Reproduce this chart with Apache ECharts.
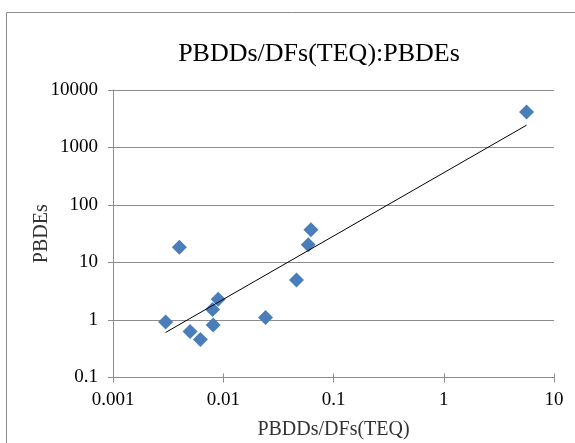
<!DOCTYPE html>
<html><head><meta charset="utf-8">
<script src="https://cdn.jsdelivr.net/npm/echarts@6/dist/echarts.min.js"></script>
<style>html,body{margin:0;padding:0;background:#fff}#c{width:575px;height:443px}</style>
</head><body><div id="c"></div>
<script>
const titleText = 'PBDDs/DFs(TEQ):PBDEs';
const xName = 'PBDDs/DFs(TEQ)';
const yName = 'PBDEs';
const xValues = [0.0030, 0.0040, 0.0050, 0.0062, 0.0081, 0.0080, 0.0090, 0.0242, 0.0462, 0.059, 0.0624, 5.64];
const yValues = [0.92, 18.4, 0.63, 0.46, 0.82, 1.53, 2.29, 1.10, 4.97, 20.4, 37.2, 4140];
const xTickLabels = ['0.001', '0.01', '0.1', '1', '10'];
const yTickLabels = ['0.1', '1', '10', '100', '1000', '10000'];

const points = xValues.map((x, i) => [x, yValues[i]]);
// power trendline via least squares in log-log space
const lx = xValues.map(Math.log10), ly = yValues.map(Math.log10);
const n = lx.length;
const mx = lx.reduce((a, b) => a + b, 0) / n, my = ly.reduce((a, b) => a + b, 0) / n;
let sxy = 0, sxx = 0;
for (let i = 0; i < n; i++) { sxy += (lx[i] - mx) * (ly[i] - my); sxx += (lx[i] - mx) ** 2; }
const slope = sxy / sxx, icpt = my - slope * mx;
const xMin = Math.min(...xValues), xMax = Math.max(...xValues);
const trend = [xMin, xMax].map(x => [x, Math.pow(10, icpt + slope * Math.log10(x))]);

function lab(list) {
  const m = {};
  list.forEach(s => { m[Math.round(Math.log10(parseFloat(s)))] = s; });
  return v => m[Math.round(Math.log10(v))] || '';
}
const font = '"Liberation Serif", "DejaVu Serif", serif';
const gray = '#8c8c8c';
const chart = echarts.init(document.getElementById('c'));
const xBase = { type: 'log', logBase: 10, min: 0.001, max: 10, position: 'bottom', minorTick: { show: false }, splitLine: { show: false } };
const yBase = { type: 'log', logBase: 10, min: 0.1, max: 10000, position: 'left', minorTick: { show: false } };
chart.setOption({
  animation: false,
  backgroundColor: '#fff',
  graphic: [{ type: 'rect', shape: { x: 6.5, y: 12.5, width: 600, height: 500 }, style: { fill: 'none', stroke: gray, lineWidth: 1 } }],
  title: { text: titleText, left: 314, top: 36, textAlign: 'center',
    textStyle: { fontFamily: font, fontSize: 26, fontWeight: 'normal', color: '#000' } },
  grid: { left: 113, right: 21, top: 90, bottom: 65.5, containLabel: false, outerBoundsMode: 'none' },
  xAxis: [Object.assign({}, xBase, {
    name: xName, nameLocation: 'middle', nameGap: 42, nameMoveOverlap: false,
    nameTextStyle: { fontFamily: font, fontSize: 20, color: '#333' },
    axisLine: { lineStyle: { color: gray } },
    axisTick: { show: true, length: 5, lineStyle: { color: gray } },
    axisLabel: { formatter: lab(xTickLabels), fontFamily: font, fontSize: 19, color: '#000', margin: 13 } }),
    Object.assign({}, xBase, { axisLine: { show: false }, axisLabel: { show: false },
    axisTick: { show: true, inside: true, length: 4, lineStyle: { color: gray } } })],
  yAxis: [Object.assign({}, yBase, {
    name: yName, nameLocation: 'middle', nameGap: 61, nameRotate: 90, nameMoveOverlap: false,
    nameTextStyle: { fontFamily: font, fontSize: 20, color: '#333' },
    axisLine: { show: true, lineStyle: { color: gray } },
    axisTick: { show: true, length: 5, lineStyle: { color: gray } },
    splitLine: { show: true, lineStyle: { color: gray, width: 1 } },
    axisLabel: { formatter: lab(yTickLabels), fontFamily: font, fontSize: 19, color: '#000', margin: 15 } }),
    Object.assign({}, yBase, { axisLine: { show: false }, axisLabel: { show: false }, splitLine: { show: false },
    axisTick: { show: true, inside: true, length: 5, lineStyle: { color: gray } } })],
  series: [
    { type: 'scatter', data: points, symbol: 'diamond', symbolSize: [15, 15],
      itemStyle: { color: '#4a7ebb', opacity: 1 }, z: 3 },
    { type: 'line', data: trend, symbol: 'none', lineStyle: { color: '#000', width: 1 }, z: 4 }
  ]
});
</script></body></html>
